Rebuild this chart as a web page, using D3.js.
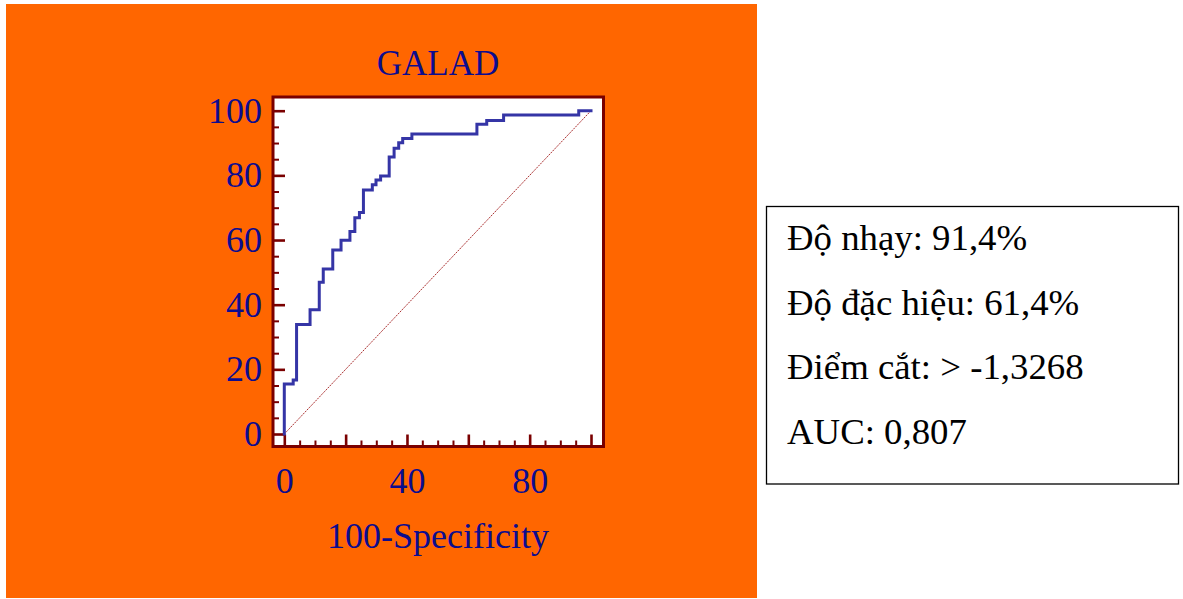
<!DOCTYPE html>
<html>
<head>
<meta charset="utf-8">
<script src="https://cdn.jsdelivr.net/npm/d3@7"></script>
<style>
  html, body { margin: 0; padding: 0; background: #ffffff; }
  svg { display: block; }
  text { font-family: "Liberation Serif", "Times New Roman", serif; }
</style>
</head>
<body>
<svg id="chart" width="1183" height="599"></svg>
<script>
// ROC curve of GALAD: step points (100-Specificity, Sensitivity), in %
const fprValues = [0, 0, 2.9, 2.9, 4.0, 4.0, 8.4, 8.4, 11.4, 11.4, 12.7, 12.7, 15.8, 15.8,
  18.5, 18.5, 21.4, 21.4, 23.0, 23.0, 24.5, 24.5, 25.8, 25.8, 28.7, 28.7, 29.9, 29.9,
  31.4, 31.4, 34.2, 34.2, 35.8, 35.8, 37.3, 37.3, 38.6, 38.6, 41.6, 41.6, 62.8, 62.8,
  66.0, 66.0, 71.5, 71.5, 96.0, 96.0, 100];
const tprValues = [0, 15.5, 15.5, 16.7, 16.7, 33.9, 33.9, 38.4, 38.4, 46.9, 46.9, 51.0, 51.0, 56.9,
  56.9, 59.9, 59.9, 62.6, 62.6, 66.9, 66.9, 68.5, 68.5, 75.5, 75.5, 77.1, 77.1, 78.6,
  78.6, 79.8, 79.8, 85.7, 85.7, 88.4, 88.4, 90.1, 90.1, 91.4, 91.4, 92.8, 92.8, 95.8,
  95.8, 97.0, 97.0, 98.7, 98.7, 100, 100];

const yTickLabels = [0, 20, 40, 60, 80, 100];
const xTickLabels = [0, 40, 80];
const majorTicks = [0, 20, 40, 60, 80, 100];
const minorTicks = d3.range(5, 100, 5).filter(v => v % 20 !== 0);

const chartTitle = "GALAD";
const xTitle = "100-Specificity";
const statLines = ["Độ nhạy: 91,4%", "Độ đặc hiệu: 61,4%", "Điểm cắt: > -1,3268", "AUC: 0,807"];

const svg = d3.select("#chart");
const navy = "#0c0c8e";
const frameColor = "#7a0000";

// orange panel
svg.append("rect").attr("x", 6).attr("y", 4).attr("width", 751).attr("height", 594)
  .attr("fill", "#ff6600");

// plot frame
const frame = { left: 273, top: 97, right: 603.5, bottom: 446.5 };
svg.append("rect")
  .attr("x", frame.left).attr("y", frame.top)
  .attr("width", frame.right - frame.left).attr("height", frame.bottom - frame.top)
  .attr("fill", "#ffffff").attr("stroke", frameColor).attr("stroke-width", 3);

const x = d3.scaleLinear().domain([0, 100]).range([284.3, 591]);
const y = d3.scaleLinear().domain([0, 100]).range([434, 110.7]);

// ticks pointing inward from the frame
function tickAxis(axis, values, size, width, transform) {
  const g = svg.append("g").attr("transform", transform)
    .call(axis.tickValues(values).tickSize(size).tickFormat(""));
  g.select(".domain").remove();
  g.selectAll(".tick line").attr("stroke", frameColor).attr("stroke-width", width);
  g.selectAll(".tick text").remove();
  return g;
}
tickAxis(d3.axisRight(y), majorTicks, 11, 2.6, `translate(${frame.left + 1},0)`);
tickAxis(d3.axisRight(y), minorTicks, 5, 2, `translate(${frame.left + 1},0)`);
tickAxis(d3.axisTop(x), majorTicks, 11, 2.6, `translate(0,${frame.bottom - 1})`);
tickAxis(d3.axisTop(x), minorTicks, 5, 2, `translate(0,${frame.bottom - 1})`);

// tick labels
const yLab = svg.append("g").attr("transform", `translate(${frame.left},0)`)
  .call(d3.axisLeft(y).tickValues(yTickLabels).tickSize(0).tickPadding(11));
yLab.select(".domain").remove();
yLab.selectAll("text").attr("fill", navy).style("font-size", "36px")
  .style("font-family", "'Liberation Serif', 'Times New Roman', serif");

const xLab = svg.append("g").attr("transform", `translate(0,${frame.bottom})`)
  .call(d3.axisBottom(x).tickValues(xTickLabels).tickSize(0).tickPadding(21));
xLab.select(".domain").remove();
xLab.selectAll("text").attr("fill", navy).style("font-size", "36px")
  .style("font-family", "'Liberation Serif', 'Times New Roman', serif");

// reference diagonal
svg.append("line")
  .attr("x1", x(0)).attr("y1", y(0)).attr("x2", x(100)).attr("y2", y(100))
  .attr("stroke", "#a01818").attr("stroke-width", 0.9).attr("stroke-dasharray", "2,1");

// ROC curve
const pts = fprValues.map((v, i) => [v, tprValues[i]]);
svg.append("path").datum(pts)
  .attr("d", d3.line().x(d => x(d[0])).y(d => y(d[1])))
  .attr("fill", "none").attr("stroke", "#3535a6").attr("stroke-width", 3)
  .attr("stroke-linejoin", "miter").attr("stroke-linecap", "square");

// titles
svg.append("text").attr("x", 438).attr("y", 75).attr("text-anchor", "middle")
  .attr("fill", navy).style("font-size", "35px").text(chartTitle);
svg.append("text").attr("x", 438).attr("y", 548).attr("text-anchor", "middle")
  .attr("fill", navy).style("font-size", "36px").text(xTitle);

// statistics box
svg.append("rect").attr("x", 766.5).attr("y", 206.5).attr("width", 412).attr("height", 277.5)
  .attr("fill", "#ffffff").attr("stroke", "#000000").attr("stroke-width", 1.3);
svg.selectAll("text.stat").data(statLines).enter().append("text")
  .attr("class", "stat")
  .attr("x", 787).attr("y", (d, i) => 250 + i * 64.7)
  .attr("fill", "#000000").style("font-size", "36.8px").text(d => d);
</script>
</body>
</html>
